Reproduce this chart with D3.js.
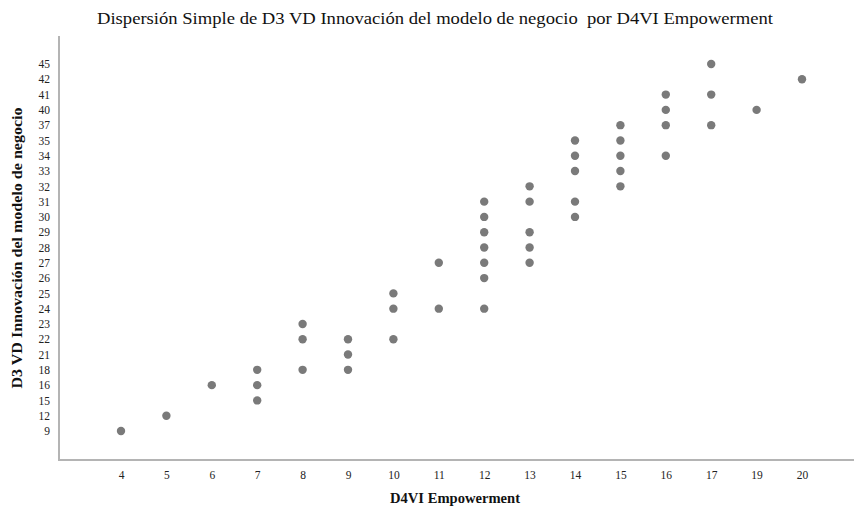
<!DOCTYPE html>
<html>
<head>
  <meta charset="utf-8">
  <title>Dispersión Simple</title>
  <script src="https://d3js.org/d3.v7.min.js"></script>
  <style>
    body { margin: 0; background: #fff; }
  </style>
</head>
<body>

<div id="chart"></div>

<script>
// categories shown on each axis (SPSS treats them as ordinal)
const xCategories = [4, 5, 6, 7, 8, 9, 10, 11, 12, 13, 14, 15, 16, 17, 19, 20];
const yCategories = [9, 12, 15, 16, 18, 21, 22, 23, 24, 25, 26, 27, 28, 29, 30, 31, 32, 33, 34, 35, 37, 40, 41, 42, 45];

// observed points: D4VI Empowerment (x) and D3 VD Innovación (y)
const empowerment = [4, 5, 6, 7, 7, 7, 8, 8, 8, 9, 9, 9, 10, 10, 10, 11, 11,
  12, 12, 12, 12, 12, 12, 12, 13, 13, 13, 13, 13, 14, 14, 14, 14, 14,
  15, 15, 15, 15, 15, 16, 16, 16, 16, 17, 17, 17, 19, 20];
const innovacion = [9, 12, 16, 18, 16, 15, 23, 22, 18, 22, 21, 18, 25, 24, 22, 27, 24,
  31, 30, 29, 28, 27, 26, 24, 32, 31, 29, 28, 27, 35, 34, 33, 31, 30,
  37, 35, 34, 33, 32, 41, 40, 37, 34, 45, 41, 37, 40, 42];

const titleText = "Dispersión Simple de D3 VD Innovación del modelo de negocio\u00a0 por D4VI Empowerment";
const xLabel = "D4VI Empowerment";
const yLabel = "D3 VD Innovación del modelo de negocio";

const width = 854;
const height = 508;
const serif = "'Liberation Serif', 'Times New Roman', serif";

const svg = d3.select("#chart")
  .append("svg")
  .attr("width", width)
  .attr("height", height);

const x = d3.scalePoint()
  .domain(xCategories)
  .range([121, 802]);

const y = d3.scalePoint()
  .domain(yCategories)
  .range([431, 64]);

// axis lines
const axisColor = "#b4b4b4";
svg.append("line")
  .attr("x1", 59).attr("x2", 59)
  .attr("y1", 36).attr("y2", 461)
  .attr("stroke", axisColor)
  .attr("stroke-width", 2);
svg.append("line")
  .attr("x1", 58).attr("x2", width)
  .attr("y1", 460).attr("y2", 460)
  .attr("stroke", axisColor)
  .attr("stroke-width", 2);

// tick labels (no tick marks, like SPSS)
const xAxis = d3.axisBottom(x).tickSize(0).tickPadding(11);
svg.append("g")
  .attr("transform", "translate(0,460)")
  .call(xAxis)
  .call(g => g.select(".domain").remove())
  .selectAll("text")
  .attr("font-family", serif)
  .attr("font-size", 11.5)
  .attr("fill", "#222");

const yAxis = d3.axisLeft(y).tickSize(0).tickPadding(9);
svg.append("g")
  .attr("transform", "translate(59,0)")
  .call(yAxis)
  .call(g => g.select(".domain").remove())
  .selectAll("text")
  .attr("font-family", serif)
  .attr("font-size", 11.5)
  .attr("fill", "#222");

// points
svg.append("g")
  .selectAll("circle")
  .data(empowerment.map((d, i) => ({ x: d, y: innovacion[i] })))
  .enter()
  .append("circle")
  .attr("cx", d => x(d.x))
  .attr("cy", d => y(d.y))
  .attr("r", 4.2)
  .attr("fill", "#7a7a7a");

// title
svg.append("text")
  .attr("x", 435)
  .attr("y", 24)
  .attr("text-anchor", "middle")
  .attr("font-family", serif)
  .attr("font-size", 16)
  .attr("textLength", 676)
  .attr("lengthAdjust", "spacingAndGlyphs")
  .attr("fill", "#111")
  .text(titleText);

// axis titles
svg.append("text")
  .attr("x", 455)
  .attr("y", 503)
  .attr("text-anchor", "middle")
  .attr("font-family", serif)
  .attr("font-size", 15)
  .attr("font-weight", "bold")
  .attr("textLength", 130)
  .attr("lengthAdjust", "spacingAndGlyphs")
  .attr("fill", "#111")
  .text(xLabel);

svg.append("text")
  .attr("transform", "translate(22,248) rotate(-90)")
  .attr("text-anchor", "middle")
  .attr("font-family", serif)
  .attr("font-size", 15)
  .attr("font-weight", "bold")
  .attr("textLength", 281)
  .attr("lengthAdjust", "spacingAndGlyphs")
  .attr("fill", "#111")
  .text(yLabel);
</script>

</body>
</html>
